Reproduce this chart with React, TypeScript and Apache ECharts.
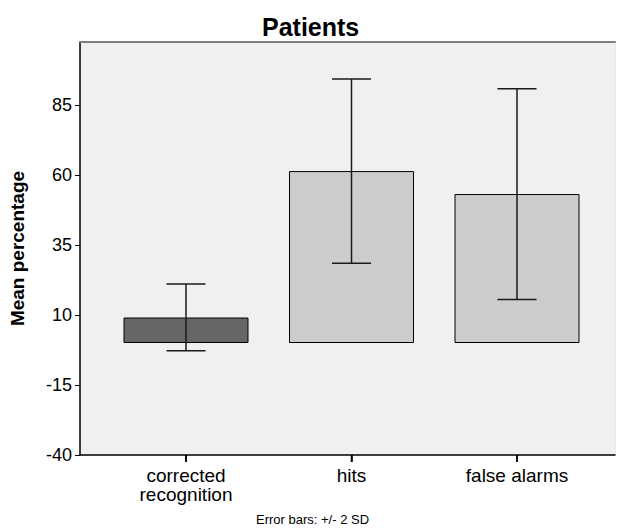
import React, { useEffect, useRef } from "react";
import * as echarts from "echarts";

const categories = ["corrected\nrecognition", "hits", "false alarms"];
const means = [9.1, 61.4, 53.2];
const errLow = [-2.8, 28.5, 15.5];
const errHigh = [21.1, 94.3, 90.8];
const barColors = ["#666666", "#cccccc", "#cccccc"];
const yMin = -40;
const yMax = 107.5;
const yInterval = 25;

const FONT = "'Liberation Sans', Arial, sans-serif";

export default function App() {
  const ref = useRef<HTMLDivElement>(null);
  useEffect(() => {
    document.body.style.margin = "0";
    const chart = echarts.init(ref.current!, null, { renderer: "svg" });
    const gridLeft = 76;
    const gridTop = 42;
    const gridW = 539;
    const gridH = 413;
    const innerLeft = 103.25;
    const innerW = 496.5;
    chart.setOption({
      animation: false,
      backgroundColor: "#ffffff",
      title: {
        text: "Patients",
        left: 257,
        top: 9,
        textStyle: { fontFamily: FONT, fontSize: 25, fontWeight: "bold", color: "#000" },
      },
      graphic: [
        {
          type: "text",
          left: 256,
          top: 513,
          style: { text: "Error bars: +/- 2 SD", font: `13px ${FONT}`, fill: "#000" },
        },
      ],
      grid: [
        {
          left: gridLeft,
          top: gridTop,
          width: gridW,
          height: gridH,
          show: true,
          backgroundColor: "#f0f0f0",
          borderWidth: 0,
        },
        { left: innerLeft, top: gridTop, width: innerW, height: gridH },
      ],
      xAxis: [
        {
          gridIndex: 0,
          type: "value",
          position: "bottom",
          min: 0,
          max: 1,
          axisLine: { show: true, onZero: false, lineStyle: { color: "#000", width: 1.5 } },
          axisTick: { show: false },
          axisLabel: { show: false },
          splitLine: { show: false },
        },
        {
          gridIndex: 0,
          type: "value",
          position: "top",
          min: 0,
          max: 1,
          axisLine: { show: true, onZero: false, lineStyle: { color: "#7f7f7f", width: 2 } },
          axisTick: { show: false },
          axisLabel: { show: false },
          splitLine: { show: false },
        },
        {
          gridIndex: 1,
          type: "category",
          data: categories,
          position: "bottom",
          axisLine: { show: false, onZero: false },
          axisTick: {
            show: true,
            interval: 0,
            alignWithLabel: true,
            length: 7,
            lineStyle: { color: "#000", width: 1.5 },
          },
          axisLabel: {
            fontFamily: FONT,
            fontSize: 19,
            color: "#000",
            margin: 11,
            lineHeight: 19,
            interval: 0,
          },
        },
      ],
      yAxis: [
        {
          gridIndex: 0,
          type: "value",
          min: yMin,
          max: yMax,
          interval: yInterval,
          name: "Mean percentage",
          nameLocation: "middle",
          nameGap: 53,
          nameTextStyle: { fontFamily: FONT, fontSize: 19, fontWeight: "bold", color: "#000" },
          axisLine: { show: true, onZero: false, lineStyle: { color: "#000", width: 1.5 } },
          axisTick: { show: true, length: 5, lineStyle: { color: "#000" } },
          axisLabel: {
            fontFamily: FONT,
            fontSize: 18,
            color: "#000",
            margin: 8,
            showMaxLabel: false,
          },
          splitLine: { show: false },
        },
        {
          gridIndex: 0,
          type: "value",
          position: "right",
          min: yMin,
          max: yMax,
          axisLine: { show: true, onZero: false, lineStyle: { color: "#e8e8e8", width: 1 } },
          axisTick: { show: false },
          axisLabel: { show: false },
          splitLine: { show: false },
        },
        {
          gridIndex: 1,
          type: "value",
          min: yMin,
          max: yMax,
          axisLine: { show: false },
          axisTick: { show: false },
          axisLabel: { show: false },
          splitLine: { show: false },
        },
      ],
      series: [
        {
          type: "bar",
          xAxisIndex: 2,
          yAxisIndex: 2,
          barWidth: 125,
          data: means.map((v, i) => ({
            value: v,
            itemStyle: { color: barColors[i], borderColor: "#000", borderWidth: 1 },
          })),
        },
        {
          type: "custom",
          xAxisIndex: 2,
          yAxisIndex: 2,
          data: categories.map((_, i) => [i, errLow[i], errHigh[i]]),
          renderItem: (params: any, api: any) => {
            const x = api.value(0);
            const lo = api.coord([x, api.value(1)]);
            const hi = api.coord([x, api.value(2)]);
            const hw = 19.5;
            const style = { stroke: "#1a1a1a", lineWidth: 1.5 };
            return {
              type: "group",
              children: [
                { type: "line", shape: { x1: hi[0], y1: hi[1], x2: lo[0], y2: lo[1] }, style },
                { type: "line", shape: { x1: hi[0] - hw, y1: hi[1], x2: hi[0] + hw, y2: hi[1] }, style },
                { type: "line", shape: { x1: lo[0] - hw, y1: lo[1], x2: lo[0] + hw, y2: lo[1] }, style },
              ],
            };
          },
          z: 5,
        },
        {
          type: "custom",
          name: "categoryTicks",
          xAxisIndex: 2,
          yAxisIndex: 2,
          clip: false,
          silent: true,
          data: categories.map((_, i) => [i]),
          renderItem: (params: any, api: any) => {
            const p = api.coord([api.value(0), yMin]);
            return {
              type: "line",
              shape: { x1: p[0], y1: p[1], x2: p[0], y2: p[1] + 7 },
              style: { stroke: "#000", lineWidth: 1.5 },
            };
          },
          z: 6,
        },
      ],
    });
    return () => chart.dispose();
  }, []);
  return <div ref={ref} style={{ width: 617, height: 529 }} />;
}
